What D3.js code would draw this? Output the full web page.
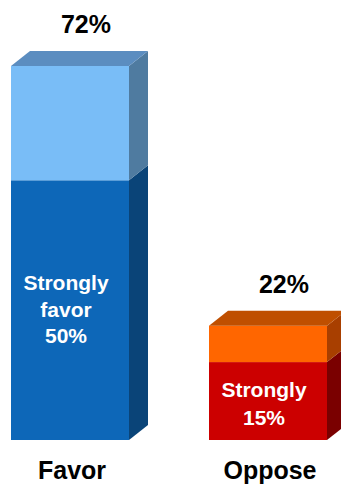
<!DOCTYPE html>
<html><head><meta charset="utf-8">
<script src="https://cdn.jsdelivr.net/npm/d3@7"></script>
<style>body{margin:0;background:#fff;}svg{display:block;font-family:"Liberation Sans",Arial,sans-serif;}</style>
</head><body>
<svg id="c" width="341" height="484"></svg>
<script>
const categories = ["Favor", "Oppose"];
const totals = [72, 22];
const strongValues = [50, 15];
const strongLabels = [["Strongly", "favor", "50%"], ["Strongly", "15%"]];
const palettes = [
  {strongFront:"#0D67B8", strongSide:"#0A4478", lightFront:"#79BDF7", lightSide:"#4F7BA0", top:"#5B8DC0"},
  {strongFront:"#CC0000", strongSide:"#7A0000", lightFront:"#FF6600", lightSide:"#A83F00", top:"#BF4F00"}
];

const svg = d3.select("#c");
const dx = 19, dy = 15;
const x = d3.scaleBand().domain(categories).range([11, 327]).paddingInner(80/198).paddingOuter(0);
const y = d3.scaleLinear().domain([0, 72]).range([440, 66]);
const bw = x.bandwidth();

categories.forEach((cat, i) => {
  const x0 = x(cat), x1 = x0 + bw;
  const p = palettes[i];
  const yb = y(0), ys = y(strongValues[i]), yt = y(totals[i]);
  const g = svg.append("g");
  g.append("rect").attr("x", x0).attr("y", ys).attr("width", bw).attr("height", yb - ys).attr("fill", p.strongFront);
  g.append("path").attr("d", `M${x1},${ys}L${x1+dx},${ys-dy}L${x1+dx},${yb-dy}L${x1},${yb}Z`).attr("fill", p.strongSide);
  g.append("rect").attr("x", x0).attr("y", yt).attr("width", bw).attr("height", ys - yt).attr("fill", p.lightFront);
  g.append("path").attr("d", `M${x1},${yt}L${x1+dx},${yt-dy}L${x1+dx},${ys-dy}L${x1},${ys}Z`).attr("fill", p.lightSide);
  g.append("path").attr("d", `M${x0},${yt}L${x0+dx},${yt-dy}L${x1+dx},${yt-dy}L${x1},${yt}Z`).attr("fill", p.top);

  svg.append("text").attr("x", x0 + bw/2 + 16).attr("y", yt - 33)
    .attr("text-anchor", "middle").attr("font-size", 25).attr("font-weight", "bold").attr("fill", "#000")
    .text(totals[i] + "%");
  svg.append("text").attr("x", x0 + bw/2 + 2).attr("y", 479)
    .attr("text-anchor", "middle").attr("font-size", 25).attr("font-weight", "bold").attr("fill", "#000")
    .text(cat);
  const lines = strongLabels[i];
  const t = svg.append("text").attr("text-anchor", "middle").attr("font-size", 21).attr("font-weight", "bold").attr("fill", "#fff");
  const startY = i === 0 ? 290 : 397;
  const lh = i === 0 ? 26.5 : 28;
  lines.forEach((ln, k) => {
    t.append("tspan").attr("x", x0 + bw/2 - 4).attr("y", startY + k*lh).text(ln);
  });
});
</script>
</body></html>
